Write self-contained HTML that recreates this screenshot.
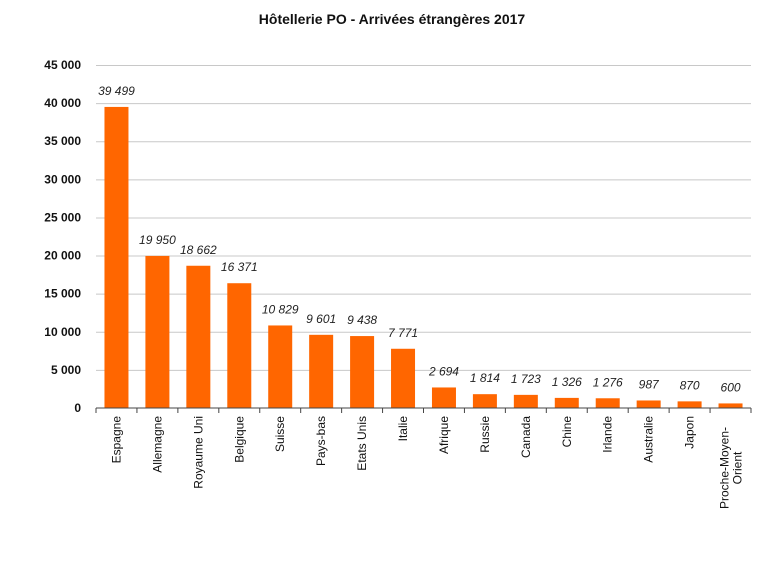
<!DOCTYPE html>
<html><head><style>body{margin:0;background:#fff}</style></head><body>
<svg width="770" height="562" xmlns="http://www.w3.org/2000/svg" font-family="Liberation Sans, Arial, sans-serif">
<rect width="770" height="562" fill="#fff"/>
<text x="392" y="24" text-anchor="middle" font-size="14" font-weight="bold" fill="#111">Hôtellerie PO - Arrivées étrangères 2017</text>
<g id="grid" stroke="#c8c8c8" stroke-width="1"></g>
<g id="yl" font-size="12" font-weight="bold" text-anchor="end" fill="#111"></g>
<g id="bars"></g>
<g id="vals" font-size="12" font-style="italic" text-anchor="middle" fill="#222"></g>
<g id="cats" font-size="12" fill="#111"></g>
<line x1="96" y1="408" x2="751" y2="408" stroke="#444"/>
<g id="ticks" stroke="#444"></g>
</svg>
<script>
const ns="http://www.w3.org/2000/svg";
function el(p,t,a,txt){const e=document.createElementNS(ns,t);for(const k in a)e.setAttribute(k,a[k]);if(txt!==undefined)e.textContent=txt;document.getElementById(p).appendChild(e);}
const y0=408,sc=(408-65)/45000;
for(let v=0;v<=45000;v+=5000){const y=y0-v*sc;if(v>0)el('grid','line',{x1:96,x2:751,y1:y+0.5,y2:y+0.5});
el('yl','text',{x:81,y:y+4},v?(v/1000|0)+' 000':'0');}
const d=[["Espagne",39499,"39 499"],["Allemagne",19950,"19 950"],["Royaume Uni",18662,"18 662"],["Belgique",16371,"16 371"],["Suisse",10829,"10 829"],["Pays-bas",9601,"9 601"],["Etats Unis",9438,"9 438"],["Italie",7771,"7 771"],["Afrique",2694,"2 694"],["Russie",1814,"1 814"],["Canada",1723,"1 723"],["Chine",1326,"1 326"],["Irlande",1276,"1 276"],["Australie",987,"987"],["Japon",870,"870"],["Proche-Moyen-",600,"600"]];
const w=(751-96)/16;
for(let i=0;i<=16;i++){const x=96+i*w;el('ticks','line',{x1:x,x2:x,y1:408,y2:413});}
d.forEach((r,i)=>{const cx=96+w*(i+0.5),h=r[1]*sc;
el('bars','rect',{x:cx-12,y:y0-h,width:24,height:h,fill:'#ff6600'});
el('vals','text',{x:cx,y:y0-h-12},r[2]);
if(i==15){el('cats','text',{x:0,y:0,transform:`translate(${cx-2},468) rotate(-90)`,'text-anchor':'middle'},r[0]);
el('cats','text',{x:0,y:0,transform:`translate(${cx+11},468) rotate(-90)`,'text-anchor':'middle'},'Orient');}
else el('cats','text',{x:0,y:0,transform:`translate(${cx+4},416) rotate(-90)`,'text-anchor':'end'},r[0]);
});
</script>
</body></html>
